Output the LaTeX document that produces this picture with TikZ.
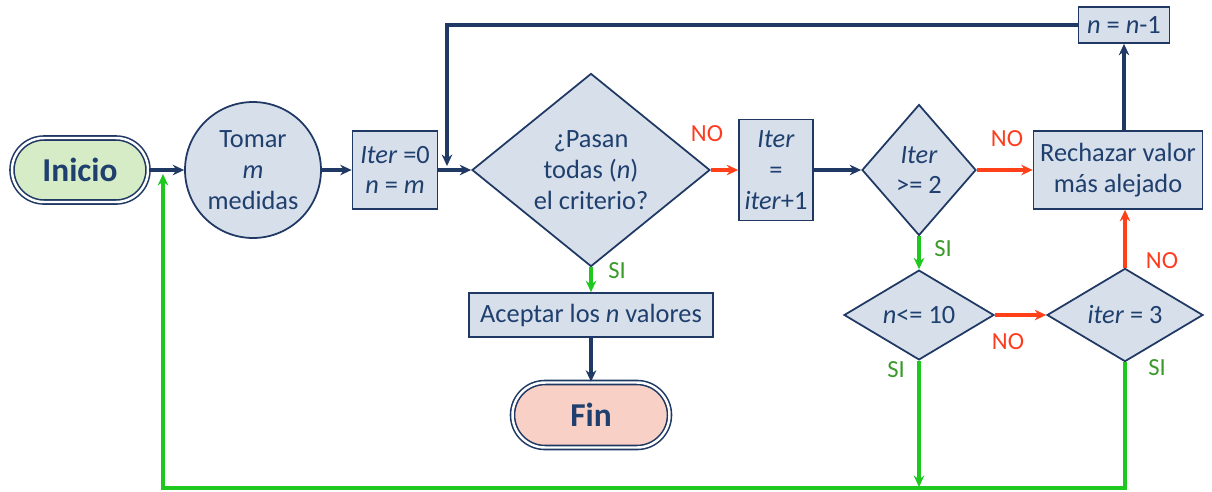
\documentclass[tikz,border=0pt]{standalone}
\usepackage{fontspec}
\setmainfont{Carlito}
\usetikzlibrary{shapes.geometric,shapes.misc,arrows.meta}
\definecolor{navy}{HTML}{1F3864}
\definecolor{txt}{HTML}{1F3F6E}
\definecolor{boxfill}{HTML}{D6DFEA}
\definecolor{gfill}{HTML}{D5ECC6}
\definecolor{pfill}{HTML}{F9D0C6}
\definecolor{ared}{HTML}{FF4019}
\definecolor{agreen}{HTML}{1EC81E}
\definecolor{lred}{HTML}{FF3B1F}
\definecolor{lgreen}{HTML}{3A9A2A}
\begin{document}
\begin{tikzpicture}[x=0.02cm,y=-0.02cm,
  base/.style={draw=navy, line width=1pt, fill=boxfill, text=txt,
    font=\fontsize{15}{17.5}\selectfont, align=center, inner sep=0pt},
  proc/.style={base, rectangle},
  dec/.style={base, diamond},
  term/.style={base, rounded rectangle, double=white, double distance=1.4pt,
    line width=0.9pt, font=\fontsize{19}{22}\selectfont\bfseries},
  flow/.style={navy, line width=2pt, -{Stealth[length=6.5pt,width=6pt]}},
  yesline/.style={agreen, line width=2pt, -{Stealth[length=6.5pt,width=6pt]}},
  noline/.style={ared, line width=2pt, -{Stealth[length=6.5pt,width=6pt]}},
  nolab/.style={text=lred, font=\fontsize{14}{16}\selectfont, inner sep=0pt},
  silab/.style={text=lgreen, font=\fontsize{14}{16}\selectfont, inner sep=0pt}]
\path[use as bounding box] (0,0) rectangle (1212,491);

% nodes
\node[term, fill=gfill, minimum width=2.72cm, minimum height=1.28cm] (ini) at (80,170) {Inicio};
\node[base, circle, minimum size=2.72cm] (tom) at (253,170) {Tomar\\\textit{m}\\medidas};
\node[proc, minimum width=1.70cm, minimum height=1.56cm] (it0) at (395,170) {\textit{Iter} =0\\\textit{n} = \textit{m}};
\node[dec, minimum width=4.76cm, minimum height=3.72cm] (pas) at (591,170) {¿Pasan\\todas (\textit{n})\\el criterio?};
\node[proc, minimum width=4.88cm, minimum height=0.88cm] (acc) at (591,315) {Aceptar los \textit{n} valores};
\node[term, fill=pfill, minimum width=3.14cm, minimum height=1.30cm] (fin) at (591,415) {Fin};
\node[proc, minimum width=1.48cm, minimum height=2.02cm] (itp) at (776,170) {\textit{Iter}\\=\\\textit{iter}+1};
\node[dec, minimum width=2.28cm, minimum height=2.62cm] (ig2) at (919,170) {\textit{Iter}\\>= 2};
\node[proc, minimum width=3.38cm, minimum height=1.56cm] (rec) at (1118,170) {Rechazar valor\\más alejado};
\node[proc, minimum width=1.82cm, minimum height=0.72cm] (nm1) at (1124,25) {\textit{n} = \textit{n}-1};
\node[dec, minimum width=3.00cm, minimum height=1.30cm] (n10) at (919,315) {\textit{n}<= 10};
\node[dec, minimum width=3.12cm, minimum height=1.30cm] (i3) at (1125,315) {\textit{iter} = 3};

% helper coordinates
\coordinate (j) at (447,166);
\coordinate (bl) at (163,488);
\coordinate (e) at (163,174);
\coordinate (bn) at (919,487);

% connectors
\draw[flow] (ini.east) -- (tom.west);
\draw[flow] (tom.east) -- (it0.west);
\draw[flow] (it0.east) -- (pas.west);
\draw[noline] (pas.east) -- (itp.west);
\draw[yesline] (pas.south) -- (acc.north);
\draw[flow] (acc.south) -- (fin.north);
\draw[flow] (itp.east) -- (ig2.west);
\draw[noline] (ig2.east) -- (rec.west);
\draw[yesline] (ig2.south) -- (n10.north);
\draw[flow] (nm1.south |- rec.north) -- (nm1.south);
\draw[flow] (nm1.west) -| (j);
\draw[noline] (n10.east) -- (i3.west);
\draw[noline] (i3.north) -- (i3.north |- rec.south);
\draw[yesline] (n10.south) -- (bn);
\draw[yesline] (i3.south) |- (bl) -- (e);

% labels
\node[nolab] (l1) at (707,134) {NO};
\node[silab] (l2) at (617,271) {SI};
\node[nolab] (l3) at (1007,139) {NO};
\node[silab] (l4) at (943,249) {SI};
\node[nolab] (l5) at (1008,342) {NO};
\node[nolab] (l6) at (1162,261) {NO};
\node[silab] (l7) at (896,370) {SI};
\node[silab] (l8) at (1157,368) {SI};
\end{tikzpicture}
\end{document}
